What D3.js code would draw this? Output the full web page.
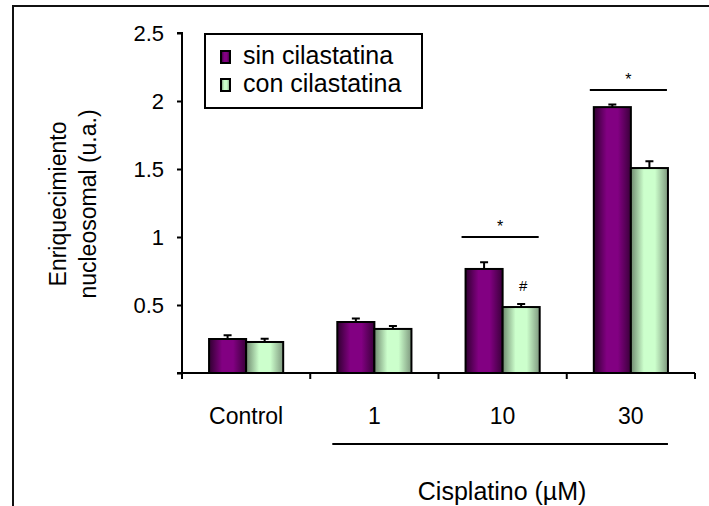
<!DOCTYPE html>
<html>
<head>
<meta charset="utf-8">
<script src="https://cdn.jsdelivr.net/npm/d3@7"></script>
<style>
  html, body { margin: 0; padding: 0; background: #fff; }
  svg { display: block; font-family: "Liberation Sans", Arial, sans-serif; }
</style>
</head>
<body>
<svg id="chart" width="709" height="506"></svg>
<script>
// Nucleosomal enrichment by cisplatin dose, with and without cilastatin
const categories = ["Control", "1", "10", "30"];
const seriesNames = ["sin cilastatina", "con cilastatina"];
const sinValues = [0.25, 0.375, 0.765, 1.955];
const conValues = [0.228, 0.324, 0.485, 1.507];
const sinErrors = [0.028, 0.025, 0.05, 0.02];
const conErrors = [0.024, 0.022, 0.022, 0.05];
const yTicks = [0.5, 1, 1.5, 2, 2.5];
const yLabelLines = ["Enriquecimiento", "nucleosomal (u.a.)"];
const xTitle = "Cisplatino (µM)";
// significance markers: category and height of the bracket line
const starMarks = [{ cat: "10", y: 1.0 }, { cat: "30", y: 2.08 }];
const hashMarks = [{ cat: "10", series: 1, text: "#" }];

const svg = d3.select("#chart");
const font = "'Liberation Sans', Arial, sans-serif";

// outer frame
svg.append("rect")
  .attr("x", 13).attr("y", 6).attr("width", 720).attr("height", 520)
  .attr("fill", "none").attr("stroke", "#111").attr("stroke-width", 2);

const plotLeft = 182, plotRight = 695, plotTop = 33, plotBottom = 373;

const x0 = d3.scaleBand().domain(categories).range([plotLeft, plotRight]).paddingInner(0).paddingOuter(0);
const x1 = d3.scaleBand().domain(seriesNames).range([0, x0.bandwidth()]).paddingInner(0).paddingOuter(0.73);
const y = d3.scaleLinear().domain([0, 2.5]).range([plotBottom, plotTop]);

// gradients giving the bars a shaded cylinder look
const defs = svg.append("defs");
function grad(id, edgeL, mid, edgeR) {
  const g = defs.append("linearGradient").attr("id", id)
    .attr("x1", "0%").attr("x2", "100%").attr("y1", "0%").attr("y2", "0%");
  g.append("stop").attr("offset", "0%").attr("stop-color", edgeL);
  g.append("stop").attr("offset", "35%").attr("stop-color", mid);
  g.append("stop").attr("offset", "65%").attr("stop-color", mid);
  g.append("stop").attr("offset", "100%").attr("stop-color", edgeR);
}
grad("gSin", "#300030", "#820082", "#3a003a");
grad("gCon", "#6f8a6f", "#ccffcc", "#7e987e");
const fills = { "sin cilastatina": "url(#gSin)", "con cilastatina": "url(#gCon)" };

const rows = categories.map((c, i) => ({
  cat: c,
  vals: [
    { s: seriesNames[0], v: sinValues[i], e: sinErrors[i] },
    { s: seriesNames[1], v: conValues[i], e: conErrors[i] }
  ]
}));

// y axis
const yAxis = d3.axisLeft(y).tickValues([0].concat(yTicks)).tickSize(5).tickPadding(13)
  .tickFormat(d => d === 0 ? "" : String(d));
const gy = svg.append("g").attr("transform", `translate(${plotLeft},0)`).call(yAxis);
gy.select(".domain").attr("stroke", "#000").attr("stroke-width", 2).attr("d", `M-5,${plotBottom}H0V${plotTop}H-5`);
gy.selectAll(".tick line").attr("stroke", "#000").attr("stroke-width", 2);
gy.selectAll(".tick text").attr("font-size", 22).attr("font-family", font).attr("fill", "#000");

// bars
const grp = svg.append("g").selectAll("g").data(rows).join("g")
  .attr("transform", d => `translate(${x0(d.cat)},0)`);

// error bars (drawn behind the bars)
grp.selectAll("path.err").data(d => d.vals).join("path").attr("class", "err")
  .attr("d", d => {
    const cx = x1(d.s) + x1.bandwidth() / 2;
    return `M${cx},${y(d.v)}V${y(d.v + d.e)}M${cx - 4},${y(d.v + d.e)}H${cx + 4}`;
  })
  .attr("stroke", "#000").attr("stroke-width", 2).attr("fill", "none");

grp.selectAll("rect").data(d => d.vals).join("rect")
  .attr("x", d => x1(d.s))
  .attr("y", d => y(d.v))
  .attr("width", x1.bandwidth())
  .attr("height", d => y(0) - y(d.v))
  .attr("fill", d => fills[d.s])
  .attr("stroke", "#000").attr("stroke-width", 2);

// x axis
const xTickPos = categories.map(c => x0(c)).concat([plotRight]);
svg.append("path")
  .attr("d", `M${plotLeft - 2},${plotBottom}H${plotRight}`)
  .attr("stroke", "#000").attr("stroke-width", 2).attr("fill", "none");
svg.append("g").selectAll("line").data(xTickPos).join("line")
  .attr("x1", d => d).attr("x2", d => d).attr("y1", plotBottom).attr("y2", plotBottom + 6)
  .attr("stroke", "#000").attr("stroke-width", 2);
svg.append("g").selectAll("text").data(categories).join("text")
  .attr("x", d => x0(d) + x0.bandwidth() / 2).attr("y", 424)
  .attr("text-anchor", "middle").attr("font-size", 23).attr("font-family", font)
  .text(d => d);

// dose bracket under the cisplatin groups
const cis = categories.slice(1);
const bx1 = x0(cis[0]) + x1(seriesNames[0]) - 5;
const bx2 = x0(cis[cis.length - 1]) + x1(seriesNames[1]) + x1.bandwidth();
svg.append("line").attr("x1", bx1).attr("x2", bx2).attr("y1", 444).attr("y2", 444)
  .attr("stroke", "#000").attr("stroke-width", 2);
svg.append("text").attr("x", (bx1 + bx2) / 2 + 2).attr("y", 500)
  .attr("text-anchor", "middle").attr("font-size", 25).attr("font-family", font)
  .text(xTitle);

// significance lines and stars
starMarks.forEach(m => {
  const xa = x0(m.cat) + x1(seriesNames[0]) - 4;
  const xb = x0(m.cat) + x1(seriesNames[1]) + x1.bandwidth() - 1;
  svg.append("line").attr("x1", xa).attr("x2", xb).attr("y1", y(m.y)).attr("y2", y(m.y))
    .attr("stroke", "#000").attr("stroke-width", 2);
  svg.append("text").attr("x", (xa + xb) / 2).attr("y", y(m.y) - 5)
    .attr("text-anchor", "middle").attr("font-size", 16).attr("font-family", font)
    .text("*");
});
hashMarks.forEach(m => {
  const i = categories.indexOf(m.cat);
  const v = m.series === 0 ? sinValues[i] : conValues[i];
  svg.append("text")
    .attr("x", x0(m.cat) + x1(seriesNames[m.series]) + x1.bandwidth() / 2 + 2)
    .attr("y", y(v) - 16)
    .attr("text-anchor", "middle").attr("font-size", 15).attr("font-family", font)
    .text(m.text);
});

// y axis title, two rotated lines
const yt = svg.append("text")
  .attr("transform", "translate(66,204) rotate(-90)")
  .attr("text-anchor", "middle").attr("font-size", 23).attr("font-family", font);
yLabelLines.forEach((t, i) => yt.append("tspan").attr("x", 0).attr("dy", i === 0 ? 0 : 30).text(t));

// legend
const lg = svg.append("g").attr("transform", "translate(205,34)");
lg.append("rect").attr("width", 217).attr("height", 74)
  .attr("fill", "#fff").attr("stroke", "#000").attr("stroke-width", 2);
seriesNames.forEach((s, i) => {
  lg.append("rect").attr("x", 16).attr("y", 17 + i * 28).attr("width", 9).attr("height", 12)
    .attr("fill", fills[s]).attr("stroke", "#000").attr("stroke-width", 2);
  lg.append("text").attr("x", 38).attr("y", 30 + i * 28)
    .attr("font-size", 25).attr("font-family", font).text(s);
});
</script>
</body>
</html>
